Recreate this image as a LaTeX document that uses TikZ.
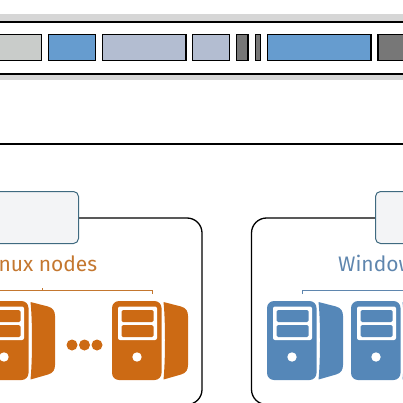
\documentclass[tikz,border=0pt]{standalone}
\usepackage{fontspec}
\setmainfont{Fira Sans}
\definecolor{bandgray}{HTML}{D6D6D6}
\definecolor{slotgray}{HTML}{C9CCCA}
\definecolor{slotblue}{HTML}{669CCF}
\definecolor{slotlav}{HTML}{B3BDD1}
\definecolor{slotdark}{HTML}{777777}
\definecolor{headfill}{HTML}{F3F4F6}
\definecolor{headline}{HTML}{3F6A80}
\definecolor{linuxcol}{HTML}{CC6A14}
\definecolor{linuxtext}{HTML}{C4772F}
\definecolor{wincol}{HTML}{5587B8}
\definecolor{wintext}{HTML}{5F86AE}
\newcommand{\serverbox}[2]{
\begin{scope}[xshift=#1pt]
\fill[#2,rounded corners=7pt] (112,301) rectangle (161.5,380);
\fill[#2] (163.5,302) -- (181,306.5) .. controls (186,308) and (188,311) .. (188,316) -- (188,365) .. controls (188,370) and (186,373) .. (181,374.5) -- (163.5,379.5) .. controls (165.5,360) and (165.5,320) .. (163.5,302) -- cycle;
\fill[white,rounded corners=2pt] (118,306.5) rectangle (157,340);
\fill[#2,rounded corners=1.5pt] (121.5,310) rectangle (153.5,322);
\fill[#2,rounded corners=1.5pt] (121.5,325) rectangle (153.5,337);
\fill[white] (137,357) circle (4.7);
\end{scope}
}
\begin{document}
\begin{tikzpicture}[x=1pt,y=-1pt,
  slot/.style={draw=black,line width=1.1pt},
  rail/.style={draw=black,line width=1.6pt},
  headbox/.style={draw=headline,fill=headfill,line width=1pt,rounded corners=5pt},
  groupline/.style={draw=black,line width=1.3pt,rounded corners=15pt},
  grouptitle/.style={font=\fontsize{21}{21}\selectfont,anchor=base west,inner sep=0pt}]
\useasboundingbox (0,0) rectangle (403,403);
\clip (0,0) rectangle (403,403);
% rack
\fill[bandgray] (0,14) rectangle (403,21);
\fill[bandgray] (0,75) rectangle (403,80);
\draw[rail] (0,22) -- (403,22);
\draw[rail] (0,74) -- (403,74);
\draw[slot,fill=slotgray] (-5,34.5) rectangle (41.5,60.5);
\draw[slot,fill=slotblue] (48.5,34.5) rectangle (95.5,60.5);
\draw[slot,fill=slotlav] (102.5,34.5) rectangle (186,60.5);
\draw[slot,fill=slotlav] (192.5,34.5) rectangle (229.5,60.5);
\draw[slot,fill=slotdark] (236.5,34.5) rectangle (248,60.5);
\draw[slot,fill=slotdark] (255.5,34.5) rectangle (260.5,60.5);
\draw[slot,fill=slotblue] (267.5,34.5) rectangle (371,60.5);
\draw[slot,fill=slotdark] (378,34.5) rectangle (410,60.5);
\draw[rail] (0,144) -- (403,144);
% groups
\draw[groupline] (60,218) -- (202,218) -- (202,404.5) -- (60,404.5);
\draw[groupline] (420,218) -- (251.5,218) -- (251.5,404.5) -- (420,404.5);
\draw[headbox] (-20,191.5) rectangle (78.5,243.5);
\draw[headbox] (375.5,191.5) rectangle (480,243.5);
\node[grouptitle,text=linuxtext] (linuxtitle) at (-18,271) {Linux nodes};
\node[grouptitle,text=wintext] (wintitle) at (338,271) {Windows nodes};
% brackets
\draw[linuxtext,line width=0.7pt] (-10,290) -- (152.5,290) -- (152.5,294);
\draw[linuxtext,line width=0.7pt] (42,290) -- (42,288);
\draw[wintext,line width=0.7pt] (302.5,294) -- (302.5,290) -- (420,290);
% servers
\serverbox{-133}{linuxcol}
\serverbox{0}{linuxcol}
\foreach \cx in {72,84.5,97}
  \fill[linuxcol] (\cx,345) circle (5.5);
\serverbox{155}{wincol}
\serverbox{239}{wincol}
\end{tikzpicture}
\end{document}
